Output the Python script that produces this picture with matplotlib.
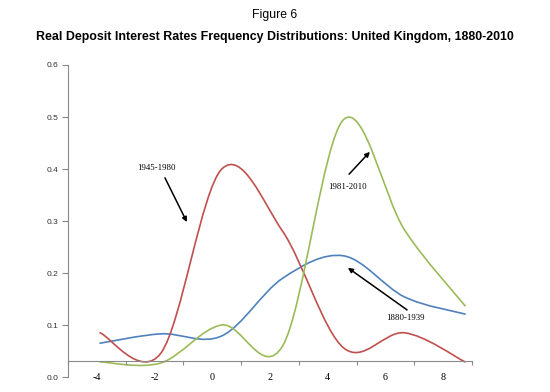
import numpy as np
import matplotlib
matplotlib.use("Agg")
import matplotlib.pyplot as plt
from matplotlib.path import Path
from matplotlib.patches import PathPatch

# positions of the 7 points along the horizontal axis (label units)
xs = [-3.89, -1.78, 0.33, 2.44, 4.55, 6.66, 8.76]
r1880 = [0.065, 0.083, 0.079, 0.190, 0.233, 0.154, 0.121]
r1945 = [0.085, 0.046, 0.400, 0.280, 0.056, 0.085, 0.029]
r1981 = [0.029, 0.027, 0.100, 0.060, 0.495, 0.283, 0.137]
xlabels = [-4, -2, 0, 2, 4, 6, 8]


def smooth_path(x, y):
    # excel-like smoothed line: cubic bezier with control points from neighbours
    pts = np.column_stack([x, y])
    n = len(pts)
    verts = [pts[0]]
    codes = [Path.MOVETO]
    for i in range(n - 1):
        p0 = pts[i - 1] if i > 0 else pts[i]
        p1 = pts[i]
        p2 = pts[i + 1]
        p3 = pts[i + 2] if i + 2 < n else pts[i + 1]
        c1 = p1 + (p2 - p0) / 6.0
        c2 = p2 - (p3 - p1) / 6.0
        verts += [c1, c2, p2]
        codes += [Path.CURVE4] * 3
    return Path(verts, codes)


fig = plt.figure(figsize=(5.5, 3.92), dpi=100)
ax = fig.add_axes([68 / 550, 1 - 377 / 392, 404 / 550, 312 / 392])

series = [(r1880, "#4F81BD"), (r1945, "#C0504D"), (r1981, "#9BBB59")]
for vals, col in series:
    ax.add_patch(PathPatch(smooth_path(xs, vals), facecolor="none",
                           edgecolor=col, lw=1.2, capstyle="round"))

ax.set_xlim(-5, 9)
ax.set_ylim(0, 0.6)

for s in ["top", "right"]:
    ax.spines[s].set_visible(False)
ax.spines["left"].set_color("#8a8a8a")
ax.spines["bottom"].set_color("#8a8a8a")
ax.spines["bottom"].set_position(("data", 0.03))

ax.set_yticks(np.arange(0, 0.61, 0.1))
ax.set_yticklabels(["%.1f" % v for v in np.arange(0, 0.61, 0.1)],
                   fontsize=6, color="#333333", family="Liberation Sans")
ax.tick_params(axis="y", direction="out", length=4, color="#8a8a8a", pad=3)

ax.set_xticks(np.arange(-5, 10, 2))
ax.set_xticklabels([])
ax.set_xticks(xlabels, minor=True)
ax.set_xticklabels([str(v) for v in xlabels], minor=True, fontsize=7.3,
                   family="Liberation Serif")
ax.tick_params(axis="x", which="major", direction="out", length=3,
               color="#8a8a8a")
ax.tick_params(axis="x", which="minor", length=0, pad=8)

arrow = dict(arrowstyle="-|>", color="black", lw=1.1, mutation_scale=7,
             shrinkA=0, shrinkB=0)
ax.annotate("", xy=(-0.88, 0.298), xytext=(-1.64, 0.383), arrowprops=arrow)
ax.text(-1.92, 0.402, "1945-1980", fontsize=6.3, family="Liberation Serif",
        ha="center", va="center")
ax.annotate("", xy=(5.46, 0.433), xytext=(4.74, 0.39), arrowprops=arrow)
ax.text(4.67, 0.365, "1981-2010", fontsize=6.3, family="Liberation Serif",
        ha="center", va="center")
ax.annotate("", xy=(4.70, 0.21), xytext=(6.75, 0.129), arrowprops=arrow)
ax.text(6.68, 0.113, "1880-1939", fontsize=6.3, family="Liberation Serif",
        ha="center", va="center")

fig.text(0.5, 1 - 15 / 392, "Figure 6", ha="center", va="center",
         fontsize=8.8, family="Liberation Sans")
fig.text(0.5, 1 - 37 / 392,
         "Real Deposit Interest Rates Frequency Distributions: United Kingdom, 1880-2010",
         ha="center", va="center", fontsize=8.9, fontweight="bold",
         family="Liberation Sans")

fig.savefig("out.png", dpi=100)
